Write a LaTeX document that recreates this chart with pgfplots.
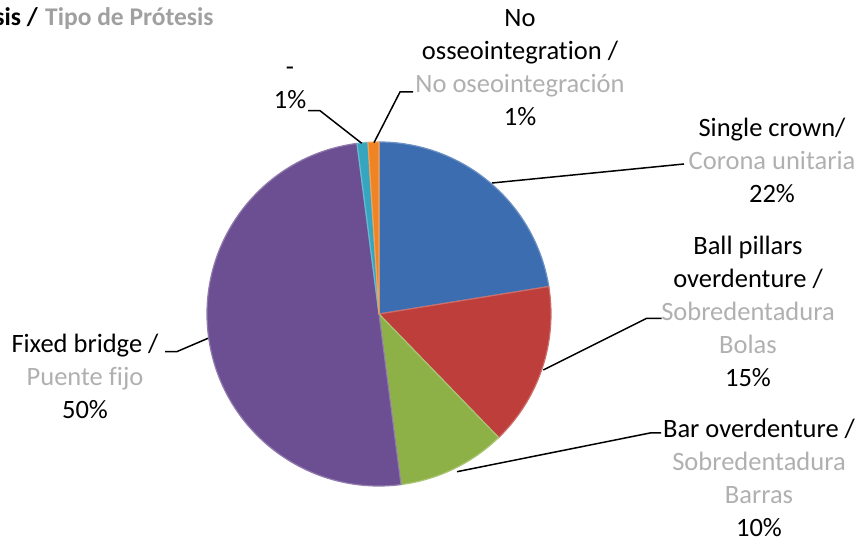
\documentclass[border=0pt]{standalone}
\usepackage{pgfplots}
\pgfplotsset{compat=1.18}
\usepackage{pgfplotstable}
\usepackage{fontspec}
\setmainfont{Carlito}[Ligatures={NoCommon}]
\definecolor{cBlue}{HTML}{3C6DB0}
\definecolor{cRed}{HTML}{BD3E3A}
\definecolor{cGreen}{HTML}{8DB147}
\definecolor{cPurple}{HTML}{6C4F92}
\definecolor{cCyan}{HTML}{35A5C0}
\definecolor{cOrange}{HTML}{EE8424}
\definecolor{lg}{HTML}{B0B0B0}
\definecolor{tg}{HTML}{A0A0A0}
\pgfplotstableread{
slice count
1 22
2 15
3 10
4 49
5 1
6 1
}\piedata
\newcommand\lbl{\fontsize{26.5}{33}\selectfont}
\begin{document}
\begin{tikzpicture}
\pgfplotstablegetelem{0}{count}\of\piedata \edef\cA{\pgfplotsretval}
\pgfplotstablegetelem{1}{count}\of\piedata \edef\cB{\pgfplotsretval}
\pgfplotstablegetelem{2}{count}\of\piedata \edef\cC{\pgfplotsretval}
\pgfplotstablegetelem{3}{count}\of\piedata \edef\cD{\pgfplotsretval}
\pgfplotstablegetelem{4}{count}\of\piedata \edef\cE{\pgfplotsretval}
\pgfplotstablegetelem{5}{count}\of\piedata \edef\cF{\pgfplotsretval}
\pgfmathsetmacro\tot{\cA+\cB+\cC+\cD+\cE+\cF}
\pgfmathsetmacro\aA{90}
\pgfmathsetmacro\aB{\aA-\cA/\tot*360}
\pgfmathsetmacro\aC{\aB-\cB/\tot*360}
\pgfmathsetmacro\aD{\aC-\cC/\tot*360}
\pgfmathsetmacro\aE{\aD-\cD/\tot*360}
\pgfmathsetmacro\aF{\aE-\cE/\tot*360}
\pgfmathsetmacro\aG{\aF-\cF/\tot*360}
\newcommand\slice[3]{\fill[#1, draw=#1!75!white, line width=1.2pt, line join=round] (axis cs:379,229) -- (axis cs:{379+172*cos(#2)},{229+172*sin(#2)}) arc[start angle=#2, end angle=#3, radius=172pt] -- cycle;}
\begin{axis}[name=ax, width=861pt, height=543pt, scale only axis, xmin=0, xmax=861, ymin=0, ymax=543, enlargelimits=false, axis lines=none, clip=false]
\slice{cBlue}{\aA}{\aB}
\slice{cRed}{\aB}{\aC}
\slice{cGreen}{\aC}{\aD}
\slice{cPurple}{\aD}{\aE}
\slice{cCyan}{\aE}{\aF}
\slice{cOrange}{\aF}{\aG}
% leaders
\draw[line width=1.5pt] (axis cs:308,432.3) -- (axis cs:320,432.3) -- (axis cs:361.7,399.7);
\draw[line width=1.5pt] (axis cs:413,451) -- (axis cs:400,451) -- (axis cs:374,400.3);
\draw[line width=1.5pt] (axis cs:684,379) -- (axis cs:492,360);
\draw[line width=1.5pt] (axis cs:661.7,224.7) -- (axis cs:646.7,224.7) -- (axis cs:543.3,173);
\draw[line width=1.5pt] (axis cs:661,110) -- (axis cs:650,110) -- (axis cs:457,71.3);
\draw[line width=1.5pt] (axis cs:165,191.3) -- (axis cs:176.7,191.3) -- (axis cs:208,204.7);
% labels
\node[anchor=base east, inner sep=0pt, font=\fontsize{25.5}{30}\selectfont\bfseries] at (axis cs:38,517) {sis /};
\node[anchor=base west, inner sep=0pt, font=\fontsize{25.5}{30}\selectfont\bfseries, text=tg] at (axis cs:45,517) {Tipo de Prótesis};
\node[align=center, font=\lbl] at (axis cs:520,475.5) {No\\osseointegration /\\\textcolor{lg}{No oseointegración}\\1\%};
\node[align=center, font=\lbl] at (axis cs:290,455.5) {-\\1\%};
\node[align=center, font=\lbl] at (axis cs:772,383) {Single crown/\\\textcolor{lg}{Corona unitaria}\\22\%};
\node[align=center, font=\lbl] at (axis cs:748,231.5) {Ball pillars\\overdenture /\\\textcolor{lg}{Sobredentadura}\\\textcolor{lg}{Bolas}\\15\%};
\node[align=center, font=\lbl] at (axis cs:759,65.5) {Bar overdenture /\\\textcolor{lg}{Sobredentadura}\\\textcolor{lg}{Barras}\\10\%};
\node[align=center, font=\lbl] at (axis cs:85,167) {Fixed bridge /\\\textcolor{lg}{Puente fijo}\\50\%};
\end{axis}
\pgfresetboundingbox
\path[use as bounding box] (ax.south west) rectangle (ax.north east);
\end{tikzpicture}
\end{document}
